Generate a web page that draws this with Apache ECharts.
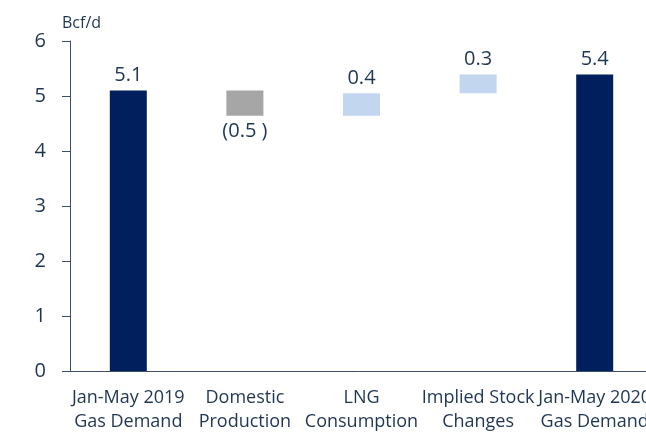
<!DOCTYPE html>
<html>
<head>
<meta charset="utf-8">
<script src="https://cdn.jsdelivr.net/npm/echarts@6/dist/echarts.min.js"></script>
<style>
  html, body { margin: 0; padding: 0; background: #fff; }
  #box01 { width: 646px; height: 433px; }
</style>
</head>
<body>
<div id="box01"></div>
<script>
    // 数据
    var categories = ['Jan-May 2019\nGas Demand', 'Domestic\nProduction', 'LNG\nConsumption', 'Implied Stock\nChanges', 'Jan-May 2020\nGas Demand'];
    var changes = [5.10, -0.46, 0.41, 0.34, 5.39];   // first and last are totals
    var labelText = ['5.1', '(0.5 )', '0.4', '0.3', '5.4'];
    var yTicks = [0, 1, 2, 3, 4, 5, 6];

    var textColor = '#1f3552';
    var axisColor = '#3d4f66';
    var barColors = ['#001f5c', '#a6a6a6', '#c2d6ef', '#c2d6ef', '#001f5c'];

    // 瀑布图: 透明底座 + 可见部分
    var baseData = [], showData = [];
    var running = 0;
    for (var i = 0; i < changes.length; i++) {
        if (i === 0 || i === changes.length - 1) {
            baseData.push(0);
            showData.push(changes[i]);
            running = changes[i];
        } else {
            var next = running + changes[i];
            baseData.push(Math.min(running, next));
            showData.push(Math.abs(changes[i]));
            running = next;
        }
    }

    var myChart = echarts.init(document.getElementById('box01'));

    var option = {
        animation: false,
        textStyle: { fontFamily: 'Open Sans' },
        title: {
            text: 'Bcf/d',
            left: 57,
            top: 10,
            textStyle: { fontSize: 16, fontWeight: 'normal', color: textColor, fontFamily: 'Open Sans' }
        },
        grid: { left: 70, top: 41, width: 583, bottom: 62, outerBoundsMode: 'none', containLabel: false },
        xAxis: {
            type: 'category',
            data: categories,
            axisLine: { lineStyle: { color: axisColor, width: 1 } },
            axisTick: { length: 6, lineStyle: { color: axisColor } },
            axisLabel: {
                interval: 0,
                margin: 15,
                fontSize: 18,
                lineHeight: 24,
                color: textColor
            }
        },
        yAxis: {
            type: 'value',
            min: yTicks[0],
            max: yTicks[yTicks.length - 1],
            interval: 1,
            splitLine: { show: false },
            axisLine: { show: true, lineStyle: { color: axisColor, width: 1 } },
            axisTick: { show: true, length: 8, lineStyle: { color: axisColor } },
            axisLabel: { margin: 24, fontSize: 20, color: textColor }
        },
        series: [
            {
                type: 'bar',
                stack: 'wf',
                barWidth: 37,
                silent: true,
                itemStyle: { color: 'transparent' },
                data: baseData
            },
            {
                type: 'bar',
                stack: 'wf',
                barWidth: 37,
                data: showData.map(function (v, i) {
                    return {
                        value: v,
                        itemStyle: { color: barColors[i] },
                        label: {
                            show: true,
                            position: changes[i] < 0 ? 'bottom' : 'top',
                            distance: 5,
                            formatter: labelText[i],
                            fontSize: 20,
                            color: textColor
                        }
                    };
                })
            }
        ]
    };

    myChart.setOption(option);
</script>
</body>
</html>
